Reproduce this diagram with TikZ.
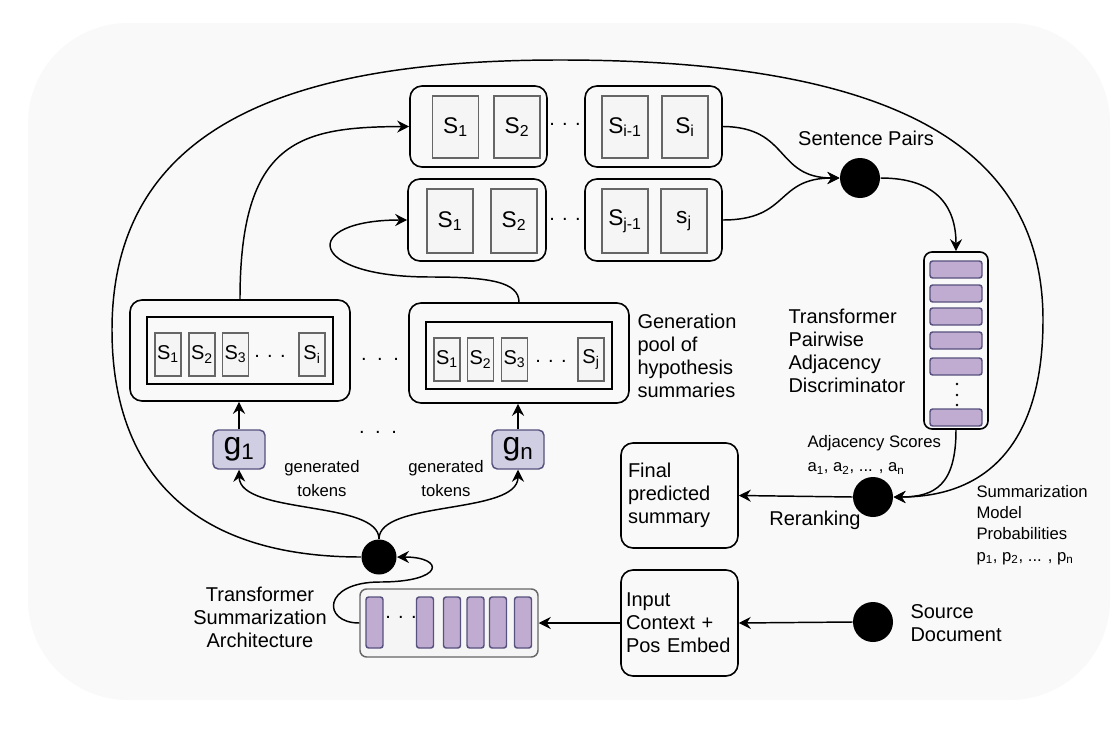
\documentclass[tikz,border=0pt]{standalone}
\usepackage{fontspec}
\setmainfont{Liberation Sans}
\usetikzlibrary{arrows.meta}

\definecolor{bgfill}{HTML}{F9F9F9}
\definecolor{cellfill}{HTML}{F5F5F5}
\definecolor{cellline}{HTML}{666666}
\definecolor{barfill}{HTML}{C0ACD0}
\definecolor{barline}{HTML}{56517E}
\definecolor{gfill}{HTML}{D0CEE2}

\tikzset{every picture/.style={line width=0.75pt}}
\tikzset{
  sz/.style 2 args={minimum width=#1*0.75pt, minimum height=#2*0.75pt},
  roundbox/.style={draw, rounded corners=9pt, line width=1.2pt, inner sep=0pt},
  framebox/.style={draw, line width=1.3pt, inner sep=0pt},
  cell/.style={draw=cellline, fill=cellfill, line width=1.2pt, inner sep=0pt},
  bar/.style={draw=barline, fill=barfill, rounded corners=2pt, line width=1.1pt, inner sep=0pt},
  gbox/.style={draw=barline, fill=gfill, rounded corners=4pt, line width=1.1pt, inner sep=0pt, font=\fontsize{24}{24}\selectfont},
  blob/.style={circle, fill=black, inner sep=0pt, minimum size=#1*0.75pt},
  conn/.style={line width=1.1pt, -{Stealth[length=9pt,width=9pt,inset=3pt]}},
  bigtxt/.style={font=\fontsize{15}{17.25}\selectfont, align=left, inner sep=0pt},
  smalltxt/.style={font=\fontsize{12.5}{18}\selectfont, align=left, inner sep=0pt},
  toptxt/.style={font=\fontsize{17}{17}\selectfont},
  pooltxt/.style={font=\fontsize{15}{15}\selectfont},
}

\begin{document}
\begin{tikzpicture}[x=0.75pt,y=0.75pt,yscale=-1,xscale=1]
	\useasboundingbox (0,0) rectangle (1118,746);

	%Shape: Background
	\fill [bgfill, rounded corners=75pt] (28,23) rectangle (1110,700);

	%Shape: sentence boxes, top row
	\node [roundbox, sz={137}{81}] (b1) at (478.5,126.5) {};
	\node [cell, sz={46}{62}, toptxt] (b1s1) at (455.5,127) {S\textsubscript{1}};
	\node [cell, sz={46}{62}, toptxt] (b1s2) at (517,127) {S\textsubscript{2}};
	\node [roundbox, sz={137}{81}] (b2) at (653.5,126.5) {};
	\node [cell, sz={46}{62}, toptxt] (b2s1) at (625,127) {S\textsubscript{i-1}};
	\node [cell, sz={46}{62}, toptxt] (b2s2) at (685,127) {S\textsubscript{i}};
	\node [pooltxt] (dotsa) at (565,124) {. . .};

	%Shape: sentence boxes, second row
	\node [roundbox, sz={138}{82}] (b3) at (477,220) {};
	\node [cell, sz={46}{64}, toptxt] (b3s1) at (450,221) {S\textsubscript{1}};
	\node [cell, sz={46}{64}, toptxt] (b3s2) at (514,221) {S\textsubscript{2}};
	\node [roundbox, sz={137}{82}] (b4) at (653.5,220) {};
	\node [cell, sz={46}{64}, toptxt] (b4s1) at (625,221) {S\textsubscript{j-1}};
	\node [cell, sz={46}{64}, toptxt] (b4s2) at (684,221) {s\textsubscript{j}};
	\node [pooltxt] (dotsb) at (565,219) {. . .};

	%Shape: sentence pairs
	\node [blob=40] (sp) at (860,178) {};
	% Text Node
	\node [bigtxt] (splab) at (866,138) {Sentence Pairs};

	%Shape: discriminator
	\node [roundbox, rounded corners=6pt, sz={64}{177}] (disc) at (956,340.5) {};
	\node [bar, sz={52}{17}] (d1) at (956,269.5) {};
	\node [bar, sz={52}{17}] (d2) at (956,293.5) {};
	\node [bar, sz={52}{17}] (d3) at (956,316.5) {};
	\node [bar, sz={52}{17}] (d4) at (956,340.5) {};
	\node [bar, sz={52}{17}] (d5) at (956,366.5) {};
	\node [bar, sz={52}{17}] (d6) at (956,417.5) {};
	\foreach \yy in {384,395,405} \fill (957,\yy) circle (1pt);
	% Text Node
	\node [bigtxt, anchor=west] (disclab) at (788,351) {Transformer\\Pairwise\\Adjacency\\Discriminator};

	%Shape: generation pool
	\node [roundbox, sz={220}{101}] (pl) at (240,350.5) {};
	\node [framebox, sz={186}{67}] (plin) at (240,350.5) {};
	\node [cell, sz={26}{43}, pooltxt] (pls1) at (168,354.5) {S\textsubscript{1}};
	\node [cell, sz={26}{43}, pooltxt] (pls2) at (202,354.5) {S\textsubscript{2}};
	\node [cell, sz={26}{43}, pooltxt] (pls3) at (235.5,354.5) {S\textsubscript{3}};
	\node [cell, sz={26}{43}, pooltxt] (plsi) at (312,354.5) {S\textsubscript{i}};
	\node [pooltxt] (dotsc) at (270,356) {. . .};
	\node [roundbox, sz={220}{100}] (pr) at (519,353) {};
	\node [framebox, sz={186}{67}] (prin) at (519,355.5) {};
	\node [cell, sz={26}{43}, pooltxt] (prs1) at (447,359.5) {S\textsubscript{1}};
	\node [cell, sz={26}{43}, pooltxt] (prs2) at (480.5,359.5) {S\textsubscript{2}};
	\node [cell, sz={26}{43}, pooltxt] (prs3) at (514.5,359.5) {S\textsubscript{3}};
	\node [cell, sz={26}{43}, pooltxt] (prsj) at (591,359.5) {S\textsubscript{j}};
	\node [pooltxt] (dotsd) at (551,361) {. . .};
	\node [pooltxt] (dotse) at (380,359) {.\hspace{8pt}.\hspace{8pt}.};
	% Text Node
	\node [bigtxt, anchor=west] (poollab) at (637,356) {Generation\\pool of\\hypothesis\\summaries};

	%Shape: generators
	\node [gbox, sz={52}{39}] (g1) at (239,449.5) {g\textsubscript{1}};
	\node [gbox, sz={52}{39}] (gn) at (518,449.5) {g\textsubscript{n}};
	\node [pooltxt] (dotsf) at (378,432) {.\hspace{8pt}.\hspace{8pt}.};
	% Text Node
	\node [smalltxt, align=center] (gen1) at (322,479) {generated\\tokens};
	% Text Node
	\node [smalltxt, align=center] (gen2) at (446,479) {generated\\tokens};

	%Shape: reranking and outputs
	\node [blob=40] (rr) at (873,497) {};
	\node [bigtxt] (rrlab) at (815,520) {Reranking};
	\node [smalltxt, anchor=west] (adjlab) at (807,455) {Adjacency Scores\\a\textsubscript{1}, a\textsubscript{2}, ... , a\textsubscript{n}};
	\node [smalltxt, anchor=west, font=\fontsize{12.5}{16}\selectfont] (problab) at (976,525) {Summarization\\Model\\Probabilities\\p\textsubscript{1}, p\textsubscript{2}, ... , p\textsubscript{n}};
	\node [roundbox, bigtxt, sz={117}{105}, text width=103*0.75pt, inner xsep=5.25pt] (fp) at (679.5,495.5) {Final\\predicted\\summary};
	\node [roundbox, bigtxt, sz={117}{106}, text width=107*0.75pt, inner xsep=3.75pt] (ic) at (679.5,623) {Input\\Context +\\Pos Embed};

	%Shape: source
	\node [blob=40] (src) at (873,622) {};
	\node [bigtxt, anchor=west] (srclab) at (910,623) {Source\\Document};

	%Shape: summarization transformer
	\node [draw=cellline, fill=cellfill, rounded corners=5pt, line width=1.1pt, sz={178}{68}] (tb) at (449,623) {};
	\node [bar, sz={17}{51}] (t0) at (374.5,622.5) {};
	\foreach \xx/\nm in {425,452,475.5,498,523}
		\node [bar, sz={17}{51}] (t\nm) at (\xx,622.5) {};
	\node [pooltxt] (dotsg) at (401,617) {. . .};
	% Text Node
	\node [bigtxt, align=center] (tblab) at (260,617) {Transformer\\Summarization\\Architecture};
	\node [blob=35] (mg) at (379,557) {};

	%Connectors
	\draw [conn] (pl.north) .. controls (240,140) and (300,127) .. (b1.west);
	\draw [conn] (pr.north) .. controls (519,282) and (490,277) .. (430,277) .. controls (305,277) and (300,220) .. (b3.west);
	\draw [conn] (b2.east) .. controls (790,127) and (775,178) .. (sp.west);
	\draw [conn] (b4.east) .. controls (790,220) and (775,178) .. (sp.west);
	\draw [conn] (sp.east) .. controls (935,178) and (956,205) .. (disc.north);
	\draw [conn] (disc.south) .. controls (956,485) and (935,497) .. (rr.east);
	\draw [conn] (mg.west) .. controls (175,557) and (112,455) .. (112,330) .. controls (112,120) and (300,60) .. (560,60) .. controls (900,60) and (1043,150) .. (1043,320) .. controls (1043,440) and (990,497) .. (rr.east);
	\draw [conn] (rr.west) -- (fp.east);
	\draw [conn] (src.west) -- (ic.east);
	\draw [conn] (ic.west) -- (tb.east);
	\draw [conn] (tb.west) .. controls (322,623) and (322,582) .. (380,582) .. controls (445,582) and (445,557) .. (mg.east);
	\draw [conn] (mg.north) .. controls (379,500) and (240,515) .. (g1.south);
	\draw [conn] (mg.north) .. controls (379,500) and (518,515) .. (gn.south);
	\draw [conn] (g1.north) -- (g1.north |- pl.south);
	\draw [conn] (gn.north) -- (gn.north |- pr.south);

\end{tikzpicture}
\end{document}
